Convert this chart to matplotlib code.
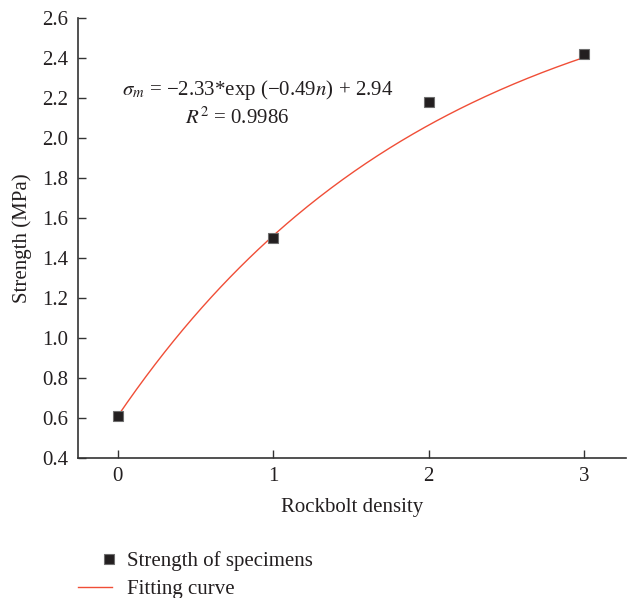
import numpy as np
import matplotlib
matplotlib.use("Agg")
import matplotlib.pyplot as plt
from matplotlib.legend_handler import HandlerLine2D

# ---- data ----
density = [0, 1, 2, 3]
strength = [0.61, 1.50, 2.18, 2.42]
# fitted model parameters shown on the chart: sigma = a*exp(b*n) + c
fit_a, fit_b, fit_c = -2.33, -0.49, 2.94
r_squared = 0.9986
x_ticks = [0, 1, 2, 3]
y_ticks = [0.4, 0.6, 0.8, 1.0, 1.2, 1.4, 1.6, 1.8, 2.0, 2.2, 2.4, 2.6]

plt.rcParams['font.family'] = ['Liberation Serif', 'DejaVu Serif']
plt.rcParams['mathtext.fontset'] = 'stix'

FS = 15
TXT = '#231f20'
fig = plt.figure(figsize=(6.30, 5.98), dpi=100)
ax = fig.add_axes([78/630, 1-458.3/598, (626-78)/630, (458.3-18.3)/598])

n = np.linspace(min(density), max(density), 200)
curve = fit_a*np.exp(fit_b*n) + fit_c
line_fit, = ax.plot(n, curve, color='#f04e37', lw=1.0, zorder=2)
pts, = ax.plot(density, strength, ls='none', marker='s', ms=7.2,
               mfc='#231f20', mec='#6e6e6e', mew=0.8, zorder=3)

ax.set_xlim(-0.255, 3.27)
ax.set_ylim(0.4, 2.6)
ax.set_xticks(x_ticks)
ax.set_xticklabels([str(t) for t in x_ticks])
ax.set_yticks(y_ticks)
ax.set_yticklabels([f"{t:.1f}" for t in y_ticks])

for s in ['top', 'right']:
    ax.spines[s].set_visible(False)
for s in ['left', 'bottom']:
    ax.spines[s].set_color('#333333')
    ax.spines[s].set_linewidth(1.2)
ax.tick_params(direction='in', length=6, width=1.0, color='#333333',
               labelsize=FS, labelcolor=TXT)
ax.tick_params(axis='x', pad=6)
ax.tick_params(axis='y', pad=7)

ax.set_xlabel('Rockbolt density', fontsize=FS, color=TXT, labelpad=9)
ax.set_ylabel('Strength (MPa)', fontsize=FS, color=TXT, labelpad=7)

eq = (r'$\sigma_m$' + f' = \u2212{abs(fit_a):.2f}*exp (\u2212{abs(fit_b):.2f}' +
      r'$n$' + f') + {fit_c:.2f}')
fig.text(258/630, 1-90/598, eq, fontsize=FS, ha='center', va='center', color=TXT)
fig.text(237/630, 1-118/598, r'$R^2$' + f' = {r_squared:.4f}', fontsize=FS,
         ha='center', va='center', color=TXT)


class RightMarker(HandlerLine2D):
    def get_xdata(self, legend, xdescent, ydescent, width, height, fontsize):
        pos = -xdescent + width * 0.89
        return np.array([pos - 1, pos + 1]), np.array([pos])


leg = fig.legend([pts, line_fit], ['Strength of specimens', 'Fitting curve'],
                 loc='upper left', bbox_to_anchor=(78/630, 1-551/598),
                 frameon=False, fontsize=FS, handlelength=1.65, handletextpad=0.68,
                 labelspacing=0.42, borderaxespad=0, borderpad=0,
                 handler_map={pts: RightMarker(numpoints=1)})
for t in leg.get_texts():
    t.set_color(TXT)

fig.savefig('out.png', dpi=100)
